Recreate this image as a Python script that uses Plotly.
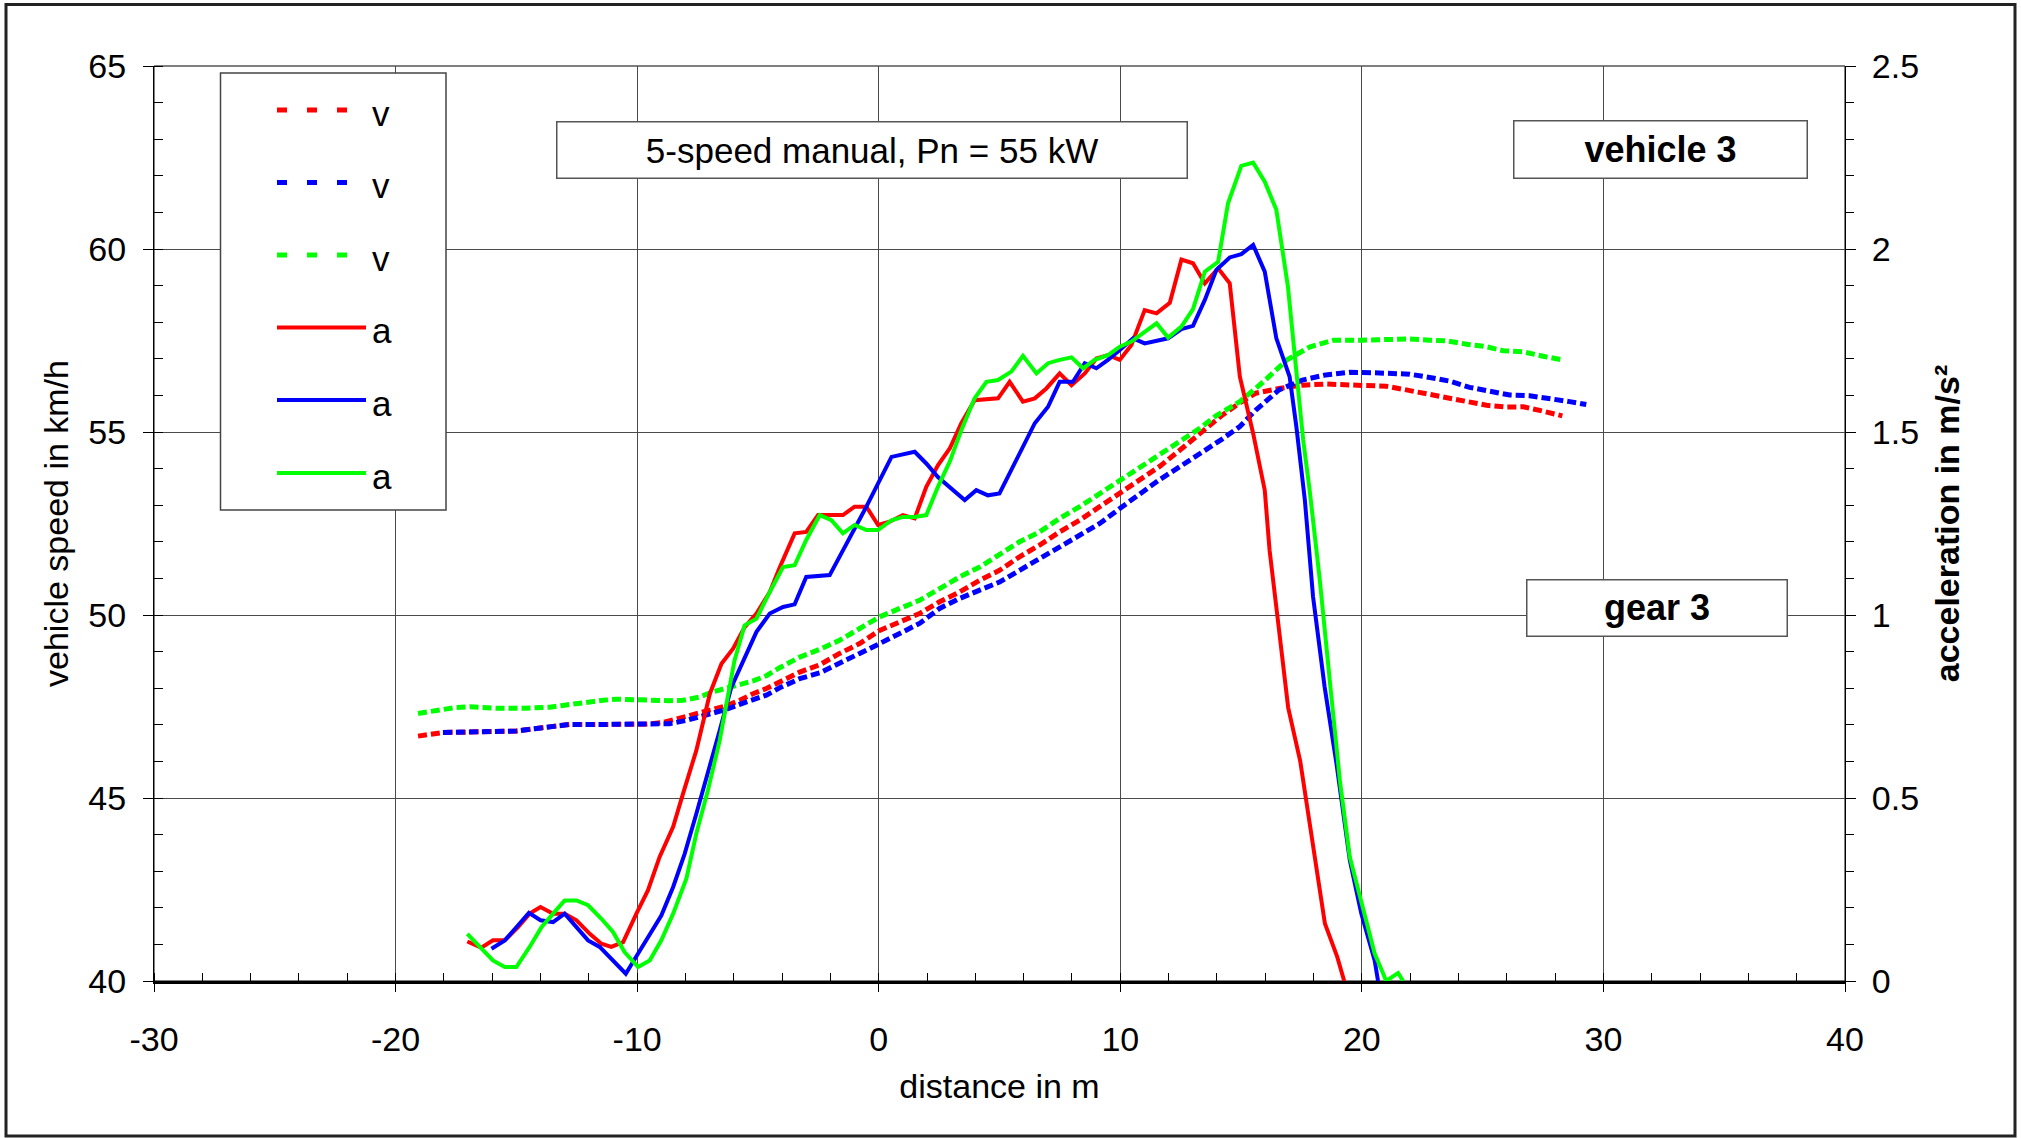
import plotly.graph_objects as go

# ---------------- data ----------------
x_tick_vals = [-30, -20, -10, 0, 10, 20, 30, 40]
x_tick_text = ["-30", "-20", "-10", "0", "10", "20", "30", "40"]

# vehicle speed v in km/h (dashed)
dist_v_red = [-19.07, -18.45, -18.04, -17.07, -15.97, -15.0, -14.17, -13.48, -12.79, -11.28,
              -9.62, -8.93, -8.38, -7.83, -7.41, -6.86, -6.31, -5.75, -5.2, -4.65,
              -4.1, -3.27, -2.44, -1.62, -0.79, 0.04, 0.87, 1.69, 2.52, 3.35,
              4.18, 5.0, 5.83, 6.66, 7.49, 8.32, 9.15, 9.98, 10.8, 11.63,
              12.46, 13.29, 14.2, 15.0, 15.61, 16.57, 17.54, 18.5, 19.5, 20.43,
              21.01, 21.84, 22.67, 23.5, 24.33, 25.16, 25.98, 26.68, 27.5, 28.3]
speed_red = [46.69, 46.76, 46.79, 46.80, 46.81, 46.83, 46.90, 46.96, 47.01, 47.01,
             47.02, 47.06, 47.15, 47.26, 47.33, 47.40, 47.52, 47.67, 47.85, 47.99,
             48.16, 48.44, 48.64, 48.95, 49.22, 49.58, 49.81, 50.04, 50.36, 50.63,
             50.95, 51.22, 51.59, 51.91, 52.27, 52.59, 52.96, 53.32, 53.70, 54.06,
             54.50, 54.95, 55.45, 55.82, 56.06, 56.19, 56.28, 56.31, 56.28, 56.27,
             56.25, 56.15, 56.04, 55.95, 55.83, 55.73, 55.68, 55.69, 55.57, 55.44]

dist_v_blue = [-18.04, -17.07, -15.97, -15.0, -14.17, -13.48, -12.79, -11.28, -9.62, -8.66,
               -7.96, -7.41, -6.86, -6.31, -5.75, -5.2, -4.65, -4.1, -3.27, -2.44,
               -1.62, -0.79, 0.04, 0.87, 1.69, 2.52, 3.35, 4.18, 5.0, 5.83,
               6.66, 7.49, 8.32, 9.15, 9.98, 10.8, 11.63, 12.46, 13.29, 14.2,
               14.95, 15.61, 16.57, 17.54, 18.5, 19.5, 20.43, 21.15, 21.98, 22.81,
               23.64, 24.46, 25.29, 26.12, 26.95, 27.77, 28.6, 29.29]
speed_blue = [46.79, 46.80, 46.81, 46.83, 46.90, 46.96, 47.01, 47.01, 47.02, 47.03,
              47.12, 47.21, 47.32, 47.42, 47.56, 47.67, 47.81, 48.01, 48.26, 48.42,
              48.67, 48.95, 49.22, 49.49, 49.77, 50.18, 50.45, 50.68, 50.90, 51.22,
              51.54, 51.86, 52.18, 52.50, 52.91, 53.30, 53.70, 54.05, 54.40, 54.80,
              55.15, 55.60, 56.15, 56.42, 56.56, 56.63, 56.62, 56.61, 56.58, 56.49,
              56.39, 56.22, 56.10, 56.01, 55.99, 55.92, 55.83, 55.75]

dist_v_green = [-19.07, -18.59, -18.04, -17.55, -16.93, -16.38, -15.83, -14.72, -14.17, -13.62,
                -13.07, -12.51, -11.96, -11.41, -10.86, -10.31, -9.76, -8.66, -8.1, -7.41,
                -6.86, -6.31, -5.75, -5.2, -4.65, -4.1, -3.27, -2.44, -1.62, -0.79,
                0.04, 0.87, 1.69, 2.52, 3.35, 4.18, 5.0, 5.83, 6.66, 7.49,
                8.32, 9.15, 9.98, 10.8, 11.63, 12.46, 13.29, 13.98, 14.95, 15.92,
                16.9, 17.86, 18.83, 19.94, 21.15, 21.98, 22.81, 23.5, 24.33, 25.16,
                25.85, 26.68, 27.5, 28.3]
speed_green = [47.31, 47.37, 47.42, 47.47, 47.49, 47.46, 47.45, 47.45, 47.45, 47.48,
               47.53, 47.58, 47.64, 47.67, 47.70, 47.69, 47.66, 47.66, 47.67, 47.76,
               47.90, 47.99, 48.08, 48.20, 48.34, 48.56, 48.85, 49.06, 49.31, 49.63,
               49.95, 50.18, 50.40, 50.72, 51.04, 51.31, 51.64, 52.00, 52.27, 52.64,
               52.96, 53.32, 53.69, 54.02, 54.40, 54.75, 55.10, 55.45, 55.83, 56.37,
               56.97, 57.33, 57.51, 57.51, 57.54, 57.54, 57.51, 57.49, 57.40, 57.33,
               57.22, 57.19, 57.07, 56.97]

# acceleration a in m/s^2 (solid)
dist_a_red = [-17.03, -16.45, -15.97, -15.48, -14.93, -14.45, -14.0, -13.48, -13.0, -12.51,
              -11.96, -11.48, -11.07, -10.58, -10.03, -9.55, -9.07, -8.51, -8.1, -7.55,
              -6.99, -6.51, -6.03, -5.55, -5.06, -4.51, -4.1, -3.48, -3.0, -2.51,
              -1.48, -1.0, -0.51, -0.03, 0.45, 1.0, 1.49, 1.97, 2.45, 2.94,
              3.42, 3.97, 4.94, 5.42, 5.97, 6.46, 6.94, 7.49, 7.98, 8.53,
              9.01, 9.49, 9.98, 10.46, 11.01, 11.5, 12.05, 12.53, 13.01, 13.5,
              14.05, 14.53, 14.95, 15.5, 15.98, 16.18, 16.5, 16.95, 17.45, 18.0,
              18.47, 18.98, 19.27]
accel_red = [0.108, 0.091, 0.111, 0.111, 0.147, 0.184, 0.202, 0.184, 0.184, 0.166,
             0.129, 0.102, 0.093, 0.106, 0.184, 0.248, 0.339, 0.421, 0.512, 0.630,
             0.785, 0.867, 0.908, 0.967, 1.004, 1.063, 1.130, 1.223, 1.227, 1.273,
             1.273, 1.296, 1.296, 1.246, 1.255, 1.273, 1.264, 1.350, 1.409, 1.455,
             1.524, 1.587, 1.592, 1.637, 1.583, 1.592, 1.619, 1.660, 1.628, 1.660,
             1.701, 1.710, 1.697, 1.738, 1.833, 1.824, 1.853, 1.971, 1.961, 1.906,
             1.947, 1.906, 1.651, 1.496, 1.341, 1.177, 0.999, 0.747, 0.600, 0.360,
             0.157, 0.066, 0.0]

dist_a_blue = [-16.03, -15.48, -15.0, -14.48, -14.0, -13.48, -13.0, -12.5, -12.03, -11.55,
               -11.0, -10.47, -9.96, -9.48, -9.0, -8.51, -8.03, -7.55, -7.07, -6.58,
               -6.1, -5.55, -5.06, -4.51, -3.96, -3.48, -3.0, -2.03, -1.48, -1.0,
               -0.51, -0.03, 0.53, 1.49, 1.97, 2.45, 3.01, 3.56, 4.04, 4.52,
               5.0, 5.49, 5.97, 6.46, 7.01, 7.49, 8.04, 8.53, 9.01, 9.49,
               9.98, 10.53, 11.01, 11.5, 11.98, 12.53, 13.01, 13.5, 13.98, 14.53,
               15.01, 15.5, 15.98, 16.46, 17.01, 17.29, 17.64, 17.98, 18.46, 18.95,
               19.5, 19.98, 20.53, 20.67]
accel_blue = [0.088, 0.111, 0.147, 0.186, 0.166, 0.161, 0.184, 0.147, 0.111, 0.093,
              0.056, 0.020, 0.075, 0.129, 0.179, 0.257, 0.348, 0.457, 0.567, 0.685,
              0.803, 0.885, 0.954, 1.004, 1.022, 1.029, 1.104, 1.109, 1.177, 1.232,
              1.296, 1.359, 1.432, 1.446, 1.414, 1.377, 1.346, 1.314, 1.341, 1.327,
              1.332, 1.396, 1.460, 1.524, 1.569, 1.637, 1.637, 1.688, 1.674, 1.697,
              1.724, 1.756, 1.742, 1.748, 1.756, 1.781, 1.790, 1.861, 1.943, 1.977,
              1.986, 2.011, 1.938, 1.756, 1.651, 1.514, 1.314, 1.050, 0.803, 0.594,
              0.330, 0.184, 0.056, 0.0]

dist_a_green = [-17.03, -16.52, -15.97, -15.48, -15.0, -14.45, -13.96, -13.48, -13.0, -12.51,
                -12.03, -11.48, -11.0, -10.52, -9.96, -9.48, -9.0, -8.51, -7.96, -7.55,
                -7.07, -6.58, -6.24, -5.97, -5.55, -5.06, -4.51, -3.96, -3.48, -3.0,
                -2.44, -1.96, -1.48, -1.0, -0.51, -0.03, 0.53, 1.0, 1.49, 1.97,
                2.45, 2.94, 3.42, 3.97, 4.46, 4.94, 5.49, 5.97, 6.53, 7.01,
                7.49, 7.98, 8.46, 8.94, 9.49, 9.98, 10.46, 11.01, 11.5, 11.98,
                12.53, 13.01, 13.5, 14.05, 14.46, 15.01, 15.5, 15.98, 16.46, 16.94,
                17.22, 17.57, 17.84, 18.26, 18.74, 19.09, 19.5, 19.98, 20.53, 21.01,
                21.5, 21.71]
accel_green = [0.129, 0.093, 0.056, 0.038, 0.038, 0.093, 0.147, 0.184, 0.220, 0.220,
               0.207, 0.170, 0.134, 0.079, 0.038, 0.056, 0.111, 0.184, 0.280, 0.403,
               0.521, 0.658, 0.776, 0.876, 0.972, 0.990, 1.063, 1.131, 1.136, 1.205,
               1.273, 1.259, 1.223, 1.246, 1.232, 1.232, 1.259, 1.268, 1.268, 1.273,
               1.350, 1.419, 1.505, 1.592, 1.637, 1.642, 1.665, 1.708, 1.660, 1.688,
               1.697, 1.704, 1.674, 1.697, 1.710, 1.733, 1.747, 1.774, 1.797, 1.758,
               1.788, 1.836, 1.938, 1.965, 2.125, 2.227, 2.236, 2.184, 2.107, 1.897,
               1.715, 1.478, 1.340, 1.095, 0.776, 0.548, 0.339, 0.220, 0.075, 0.0,
               0.022, 0.0]

# ---------------- styling / layout ----------------
W, H = 2021, 1138
ML, MR, MT, MB = 154, 176, 66, 157
PW, PH = W - ML - MR, H - MT - MB
FONT = "Liberation Sans, Arial, sans-serif"
RED, BLUE, GREEN = "#FF0000", "#0000FF", "#00FF00"
GRID = "#4a4a4a"
DASH = "9px,4px"


def px_x(p):
    return (p - ML) / PW


def px_y(p):
    return (H - MB - p) / PH


fig = go.Figure()
series = [
    (dist_v_red, speed_red, RED, "v", "y", True),
    (dist_v_blue, speed_blue, BLUE, "v", "y", True),
    (dist_v_green, speed_green, GREEN, "v", "y", True),
    (dist_a_red, accel_red, RED, "a", "y2", False),
    (dist_a_blue, accel_blue, BLUE, "a", "y2", False),
    (dist_a_green, accel_green, GREEN, "a", "y2", False),
]
for xs, ys, col, name, yax, dashed in series:
    fig.add_trace(go.Scatter(
        x=xs, y=ys, name=name, mode="lines", yaxis=yax, showlegend=False,
        line=dict(color=col, width=5 if dashed else 4, dash=DASH if dashed else "solid"),
        cliponaxis=True,
    ))

tickfont = dict(family=FONT, size=34, color="black")

fig.update_layout(
    width=W, height=H, autosize=False,
    margin=dict(l=ML, r=MR, t=MT, b=MB, pad=0),
    paper_bgcolor="white", plot_bgcolor="white",
    font=dict(family=FONT, size=34, color="black"),
    xaxis=dict(
        range=[-30, 40], tickmode="array", tickvals=x_tick_vals, ticktext=x_tick_text,
        ticks="outside", ticklen=8, tickwidth=1, tickcolor="black",
        ticklabelstandoff=18,
        showline=True, linewidth=3, linecolor="black",
        showgrid=True, gridcolor=GRID, gridwidth=1, zeroline=False,
        minor=dict(tickmode="linear", tick0=-30, dtick=2, ticks="inside", ticklen=8,
                   tickwidth=1, tickcolor="black", showgrid=False),
        tickfont=tickfont,
        title=dict(text="distance in m", font=dict(family=FONT, size=34), standoff=18),
    ),
    xaxis3=dict(
        overlaying="x", anchor="y", side="bottom", range=[-30, 40],
        tickmode="array", tickvals=x_tick_vals, ticks="inside", ticklen=8,
        tickcolor="black", showticklabels=False, showgrid=False, zeroline=False,
        showline=False,
    ),
    yaxis=dict(
        range=[40, 65], dtick=5, tick0=40,
        ticks="outside", ticklen=10, tickwidth=1, tickcolor="black",
        ticklabelstandoff=10,
        showline=True, linewidth=1, linecolor="black",
        showgrid=True, gridcolor=GRID, gridwidth=1, zeroline=False,
        minor=dict(tickmode="linear", tick0=40, dtick=1, ticks="inside", ticklen=9,
                   tickwidth=1, tickcolor="black", showgrid=False),
        tickfont=tickfont,
        title=dict(text="vehicle speed in km/h", font=dict(family=FONT, size=34), standoff=9),
    ),
    yaxis3=dict(
        overlaying="y", anchor="x", side="left", range=[40, 65], dtick=5, tick0=40,
        ticks="inside", ticklen=10, tickcolor="black", showticklabels=False,
        showgrid=False, zeroline=False, showline=False,
    ),
    yaxis2=dict(
        overlaying="y", anchor="x", side="right", range=[0, 2.5], dtick=0.5, tick0=0,
        ticks="outside", ticklen=10, tickwidth=1, tickcolor="black",
        ticklabelstandoff=9,
        showline=True, linewidth=1, linecolor="black",
        showgrid=False, zeroline=False,
        minor=dict(tickmode="linear", tick0=0, dtick=0.1, ticks="outside", ticklen=8,
                   tickwidth=1, tickcolor="black", showgrid=False),
        tickfont=tickfont,
        title=dict(text="acceleration in m/s²",
                   font=dict(family=FONT, size=34, weight="bold"), standoff=17),
    ),
    yaxis4=dict(
        overlaying="y", anchor="x", side="right", range=[0, 2.5], dtick=0.5, tick0=0,
        ticks="inside", ticklen=10, tickcolor="black", showticklabels=False,
        showgrid=False, zeroline=False, showline=False,
        minor=dict(tickmode="linear", tick0=0, dtick=0.1, ticks="inside", ticklen=8,
                   tickwidth=1, tickcolor="black", showgrid=False),
    ),
)

shapes = []
# plot-area frame (thin top line)
shapes.append(dict(type="rect", xref="paper", yref="paper", x0=0, x1=1, y0=0, y1=1,
                   line=dict(color="black", width=1), layer="below"))
# outer chart frame
shapes.append(dict(type="rect", xref="paper", yref="paper",
                   x0=px_x(6), x1=px_x(2015), y0=px_y(1136), y1=px_y(4.5),
                   line=dict(color="#222222", width=3), layer="above"))
# legend box
shapes.append(dict(type="rect", xref="paper", yref="paper",
                   x0=px_x(220.5), x1=px_x(446), y0=px_y(510), y1=px_y(73),
                   line=dict(color="#444444", width=1.5), fillcolor="white", layer="above"))

legend_rows = [110, 182.5, 255, 327.5, 400, 473]
annotations = []
for (xs, ys, col, name, yax, dashed), ry in zip(series, legend_rows):
    shapes.append(dict(type="line", xref="paper", yref="paper",
                       x0=px_x(277), x1=px_x(366), y0=px_y(ry), y1=px_y(ry),
                       line=dict(color=col, width=5 if dashed else 4,
                                 dash="10px,20px" if dashed else "solid"),
                       layer="above"))
    annotations.append(dict(xref="paper", yref="paper", x=px_x(370), y=px_y(ry + 3),
                            xanchor="left", yanchor="middle", showarrow=False,
                            text=name, font=dict(family=FONT, size=35, color="black")))

boxes = [
    ("5-speed manual, Pn = 55 kW", 556, 1187, 121, 178, False, 35),
    ("vehicle 3", 1513, 1807, 120.5, 178, True, 36),
    ("gear 3", 1526, 1787, 579.5, 636, True, 36),
]
for text, x0, x1, y0, y1, bold, fs in boxes:
    annotations.append(dict(
        xref="paper", yref="paper", x=px_x((x0 + x1) / 2), y=px_y((y0 + y1) / 2),
        xanchor="center", yanchor="middle", showarrow=False,
        text=text, width=x1 - x0 - 2, height=y1 - y0 - 2,
        align="center", valign="middle",
        bgcolor="white", bordercolor="#555555", borderwidth=1.5, borderpad=0,
        font=dict(family=FONT, size=fs, color="black", weight="bold" if bold else "normal"),
    ))

fig.update_layout(shapes=shapes, annotations=annotations)

fig.write_html(
    "out.html",
    config={"displayModeBar": False},
    post_script="document.body.style.margin='0';document.body.style.overflow='hidden';",
)
